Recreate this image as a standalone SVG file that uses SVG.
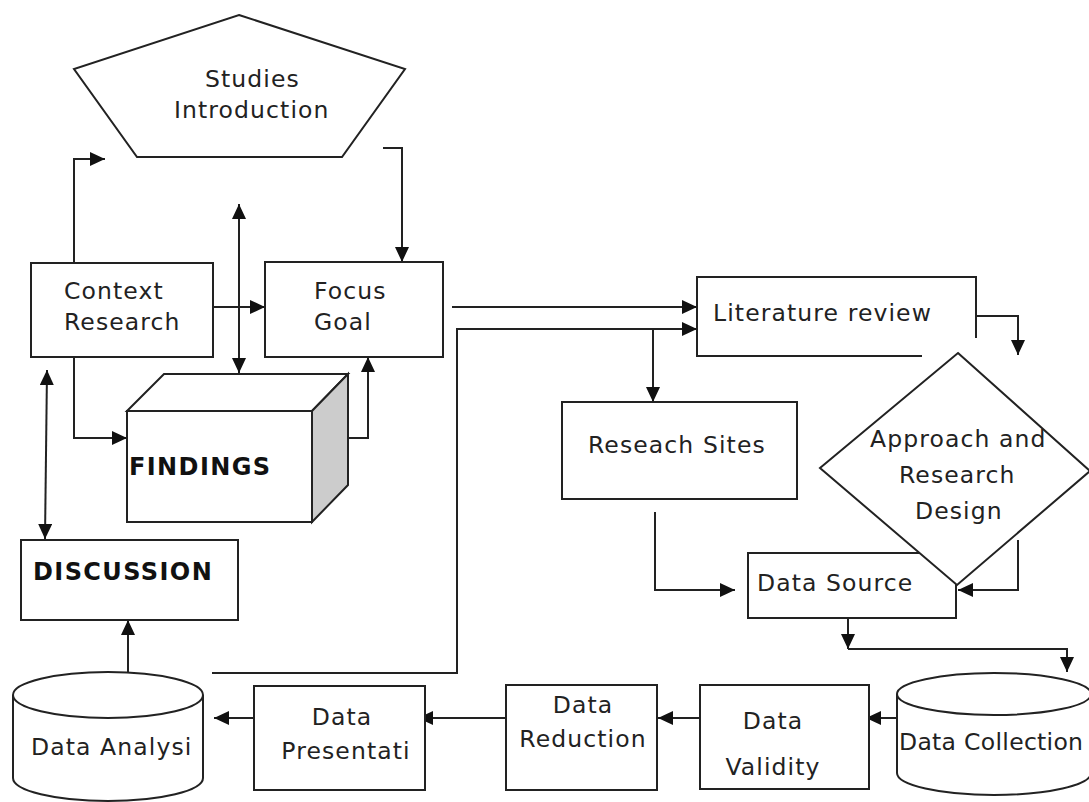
<svg xmlns="http://www.w3.org/2000/svg" width="1089" height="802" viewBox="0 0 1089 802">
<defs>
<style>
.s{fill:#fff;stroke:#222;stroke-width:2}
.c{fill:none;stroke:#222;stroke-width:2}
.t{font-family:"DejaVu Sans","Verdana",sans-serif;font-size:23.5px;fill:#222;letter-spacing:1.1px}
.b{font-family:"DejaVu Sans","Verdana",sans-serif;font-size:24px;font-weight:bold;fill:#111;letter-spacing:1.4px}
.m{text-anchor:middle}
</style>
<marker id="ah" markerUnits="userSpaceOnUse" markerWidth="16" markerHeight="14" refX="15" refY="7" orient="auto-start-reverse">
<path d="M0,0 L15,7 L0,14 z" fill="#111"/>
</marker>
</defs>
<rect width="1089" height="802" fill="#fff"/>

<g id="connectors">
<path class="c" d="M74,263 V159 H105" marker-end="url(#ah)"/>
<path class="c" d="M383,148 H402 V262" marker-end="url(#ah)"/>
<path class="c" d="M213,307 H265" marker-end="url(#ah)"/>
<path class="c" d="M239,204 V373" marker-start="url(#ah)" marker-end="url(#ah)"/>
<path class="c" d="M74,357 V438 H127" marker-end="url(#ah)"/>
<path class="c" d="M348,438 H368 V357" marker-end="url(#ah)"/>
<path class="c" d="M47,370 L45,539" marker-start="url(#ah)" marker-end="url(#ah)"/>
<path class="c" d="M128,672 V620" marker-end="url(#ah)"/>
<path class="c" d="M212,673 H457 V329 H697" marker-end="url(#ah)"/>
<path class="c" d="M452,307 H697" marker-end="url(#ah)"/>
<path class="c" d="M653,329 V402" marker-end="url(#ah)"/>
<path class="c" d="M976,316 H1018 V355" marker-end="url(#ah)"/>
<path class="c" d="M655,512 V590 H735" marker-end="url(#ah)"/>
<path class="c" d="M1018,540 V590 H958" marker-end="url(#ah)"/>
<path class="c" d="M848,618 V649" marker-end="url(#ah)"/>
<path class="c" d="M848,649 H1067 V672" marker-end="url(#ah)"/>
<path class="c" d="M897,718 H866" marker-end="url(#ah)"/>
<path class="c" d="M708,718 H658" marker-end="url(#ah)"/>
<path class="c" d="M506,718 H418" marker-end="url(#ah)"/>
<path class="c" d="M254,718 H214" marker-end="url(#ah)"/>
</g>

<g id="studies-introduction">
<polygon class="s" points="239,15 405,69 342,157 137,157 74,69"/>
<text class="t" x="205" y="87">Studies</text>
<text class="t" x="174" y="118">Introduction</text>
</g>

<g id="context-research">
<rect class="s" x="31" y="263" width="182" height="94"/>
<text class="t" x="64" y="299">Context</text>
<text class="t" x="64" y="330">Research</text>
</g>

<g id="focus-goal">
<rect class="s" x="265" y="262" width="178" height="95"/>
<text class="t" x="314" y="299">Focus</text>
<text class="t" x="314" y="330">Goal</text>
</g>

<g id="findings">
<polygon class="s" points="127,411 164,374 348,374 312,411"/>
<polygon points="312,411 348,374 348,485 312,522" fill="#cccccc" stroke="#222" stroke-width="2"/>
<rect class="s" x="127" y="411" width="185" height="111"/>
<text class="b" x="129" y="475">FINDINGS</text>
</g>

<g id="discussion">
<rect class="s" x="21" y="540" width="217" height="80"/>
<text class="b" x="33" y="580">DISCUSSION</text>
</g>

<g id="literature-review">
<path class="c" d="M922,356 H697 V277 H976 V338"/>
<text class="t" x="713" y="321">Literature review</text>
</g>

<g id="research-sites">
<rect class="s" x="562" y="402" width="235" height="97"/>
<text class="t" x="588" y="453">Reseach Sites</text>
</g>

<g id="data-source">
<rect class="s" x="748" y="553" width="208" height="65"/>
<text class="t" x="757" y="591">Data Source</text>
</g>

<g id="approach-research-design">
<polygon class="s" points="958,353 1090,471 957,585 820,468"/>
<text class="t" x="870" y="447">Approach and</text>
<text class="t" x="899" y="483">Research</text>
<text class="t" x="915" y="519">Design</text>
</g>

<g id="data-collection">
<path class="s" d="M897,694 V773 A97,22 0 0 0 1091,773 V694"/>
<ellipse class="s" cx="994" cy="694" rx="97" ry="21"/>
<text class="t" x="899" y="750" style="letter-spacing:0.3px">Data Collection</text>
</g>

<g id="data-validity">
<rect class="s" x="700" y="685" width="169" height="104"/>
<text class="t m" x="773" y="729">Data</text>
<text class="t m" x="773" y="775">Validity</text>
</g>

<g id="data-reduction">
<rect class="s" x="506" y="685" width="151" height="105"/>
<text class="t m" x="583" y="713">Data</text>
<text class="t m" x="583" y="747">Reduction</text>
</g>

<g id="data-presentation">
<rect class="s" x="254" y="686" width="171" height="104"/>
<text class="t m" x="342" y="725">Data</text>
<text class="t m" x="346" y="759">Presentati</text>
</g>

<g id="data-analysis">
<path class="s" d="M13,695 V778 A95,23 0 0 0 203,778 V695"/>
<ellipse class="s" cx="108" cy="695" rx="95" ry="23"/>
<text class="t" x="31" y="755">Data Analysi</text>
</g>
</svg>
